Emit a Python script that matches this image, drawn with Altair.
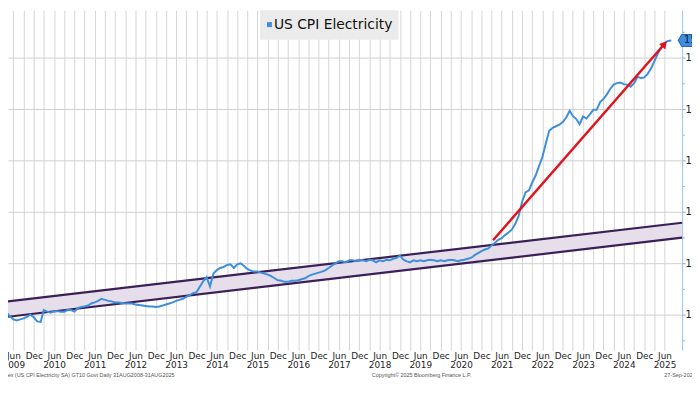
import altair as alt
import pandas as pd

# ---------------- data ----------------
SERIES_NAME = "US CPI Electricity"
series_start = "2009-03-01"   # first monthly value below (clipped at the left edge)

cpi_2009 = [100.7, 100.4, 99.7, 99.1, 98.9, 99.1, 99.3, 99.6, 100.0, 99.5]
cpi_2010 = [98.7, 98.6, 100.9, 100.6, 100.4, 100.7, 100.7, 100.6, 100.6, 100.9, 100.9, 100.6]
cpi_2011 = [101.3, 101.5, 101.6, 101.8, 102.2, 102.4, 102.7, 103.1, 102.9, 102.7, 102.6, 102.4]
cpi_2012 = [102.4, 102.3, 102.2, 102.2, 102.2, 102.0, 101.9, 101.8, 101.7, 101.6, 101.6, 101.5]
cpi_2013 = [101.6, 101.8, 102.0, 102.2, 102.4, 102.7, 102.9, 103.1, 103.5, 103.8, 104.2, 104.4]
cpi_2014 = [105.5, 106.6, 107.3, 105.5, 108.0, 108.7, 109.1, 109.3, 109.7, 109.8, 109.1, 109.8]
cpi_2015 = [110.0, 109.5, 108.9, 108.6, 108.4, 108.4, 108.2, 108.0, 107.8, 107.5, 107.1, 106.7]
cpi_2016 = [106.6, 106.4, 106.4, 106.6, 106.6, 106.7, 106.9, 107.1, 107.5, 107.8, 108.0, 108.2]
cpi_2017 = [108.4, 108.7, 109.1, 109.6, 110.0, 110.4, 110.4, 110.2, 110.6, 110.6, 110.4, 110.7]
cpi_2018 = [110.6, 110.4, 110.7, 110.6, 110.2, 110.6, 110.4, 110.7, 110.6, 110.9, 111.1, 111.5]
cpi_2019 = [110.7, 110.4, 110.2, 110.6, 110.4, 110.6, 110.4, 110.6, 110.7, 110.6, 110.4, 110.6]
cpi_2020 = [110.4, 110.6, 110.7, 110.6, 110.4, 110.6, 110.7, 110.9, 111.1, 111.6, 112.0, 112.4]
cpi_2021 = [112.7, 112.9, 113.5, 114.0, 114.6, 114.9, 115.5, 116.0, 116.6, 117.7, 119.3, 122.0]
cpi_2022 = [123.8, 124.2, 125.7, 127.1, 128.9, 130.7, 133.3, 135.8, 136.4, 136.7, 137.0, 137.5]
cpi_2023 = [138.4, 139.7, 138.7, 138.1, 137.1, 138.6, 138.2, 139.0, 139.9, 139.9, 141.4, 142.0]
cpi_2024 = [142.9, 144.0, 144.8, 145.1, 145.2, 144.9, 144.8, 144.4, 145.1, 146.3, 146.1, 146.2]
cpi_2025 = [146.9, 148.0, 149.3, 150.8, 152.0, 152.9, 153.3, 153.4]

# trend channel (two parallel lines) at the left and right edges of the plot
band_dates = ["2009-04-14", "2025-11-06"]
band_upper = [102.6, 117.9]
band_lower = [99.6, 115.0]

# red arrow
arrow_dates = ["2021-03-15", "2025-06-01"]
arrow_values = [114.5, 152.7]

# axes
y_tick_values = [95, 100, 105, 110, 115, 120, 125, 130, 135, 140, 145, 150, 155]
y_domain = [93.1, 159.3]
tick_years = list(range(2009, 2026))
tick_months = [3, 6, 9, 12]

footer_left = "Index (US CPI Electricity SA) GT10  Govt  Daily 31AUG2008-31AUG2025"
footer_mid = "Copyright\u00a9 2025 Bloomberg Finance L.P."
footer_right = "27-Sep-2025"

# ---------------- tables ----------------
values = (cpi_2009 + cpi_2010 + cpi_2011 + cpi_2012 + cpi_2013 + cpi_2014 + cpi_2015
          + cpi_2016 + cpi_2017 + cpi_2018 + cpi_2019 + cpi_2020 + cpi_2021 + cpi_2022
          + cpi_2023 + cpi_2024 + cpi_2025)
dates = pd.date_range(series_start, periods=len(values), freq="MS").strftime("%Y-%m-%d")
series = pd.DataFrame({"date": list(dates), "value": values})

band = pd.DataFrame({"date": band_dates, "upper": band_upper, "lower": band_lower})
band_long = pd.DataFrame({
    "date": band_dates + band_dates,
    "value": band_upper + band_lower,
    "edge": ["upper", "upper", "lower", "lower"],
})
arrow = pd.DataFrame({"date": arrow_dates, "value": arrow_values})
arrow_head = arrow.tail(1)
last = series.tail(1).copy()
last["label"] = [f"{v:.1f}" for v in last["value"]]
dummy = pd.DataFrame({"k": [0]})

# ---------------- scales & axes ----------------
FONT = "DejaVu Sans"
x_scale = alt.Scale(
    type="utc",
    domain=[alt.DateTime(year=2009, month=4, date=14, utc=True),
            alt.DateTime(year=2025, month=11, date=6, utc=True)],
)
y_scale = alt.Scale(domain=y_domain, nice=False, zero=False)

x_ticks = [alt.DateTime(year=y, month=m, date=1, utc=True)
           for y in tick_years for m in tick_months
           if (y, m) > (2009, 3) and (y, m) <= (2025, 6)]

x_axis = alt.Axis(
    values=x_ticks,
    labelExpr="utcmonth(datum.value) == 5 ? ['Jun', utcFormat(datum.value, '%Y')] : "
              "(utcmonth(datum.value) == 11 ? 'Dec' : '')",
    grid=True, gridColor="#d6d6d6", gridWidth=1,
    domain=False, ticks=False,
    labelFont=FONT, labelFontSize=9, labelColor="#222222",
    labelPadding=1, labelBaseline="top", labelLineHeight=9.5,
    labelOverlap=False, labelFlush=False, labelBound=False,
    title=None,
)
y_axis = alt.Axis(
    orient="right",
    values=y_tick_values,
    labelExpr="datum.value % 10 == 0 ? datum.label : ''",
    grid=True, gridColor="#cfcfcf", gridWidth=1,
    gridOpacity={"condition": {"test": "datum.value % 10 == 0", "value": 1}, "value": 0},
    tickSize={"condition": {"test": "datum.value % 10 == 0", "value": 3}, "value": 2},
    tickColor="#7fa9d3", domainColor="#9ec4e8", domainWidth=1,
    labelFont=FONT, labelFontSize=10, labelColor="#222222",
    labelPadding=0, labelAlign="left", labelOverlap=False, labelBound=False,
    title=None,
)

X = alt.X("date:T", scale=x_scale, axis=x_axis, title=None)
Y = alt.Y("value:Q", scale=y_scale, axis=y_axis, title=None)

# ---------------- layers ----------------
band_fill = alt.Chart(band).mark_area(color="#e6dfeb", opacity=1).encode(
    x=X, y=alt.Y("lower:Q", scale=y_scale, axis=y_axis, title=None), y2="upper:Q"
)
band_lines = alt.Chart(band_long).mark_line(color="#3a2057", strokeWidth=2.2).encode(
    x=X, y=Y, detail="edge:N"
)
cpi_line = alt.Chart(series).mark_line(color="#3d8fdc", strokeWidth=2, clip=True).encode(
    x=X, y=Y
)
arrow_line = alt.Chart(arrow).mark_line(color="#e0141c", strokeWidth=2.5).encode(x=X, y=Y)
arrow_tip = alt.Chart(arrow_head).mark_point(
    shape="triangle-up", angle=41, size=70, filled=True, color="#e0141c", opacity=1
).encode(x=X, y=Y)

tag_shape = alt.Chart(last).mark_point(
    shape="M-1,0L-0.75,-0.43L1,-0.43L1,0.43L-0.75,0.43Z", size=784, filled=True,
    fill="#3b8fe0", stroke="#24619f", strokeWidth=1, opacity=1
).encode(x=alt.value(692), y=Y)
tag_text = alt.Chart(last).mark_text(
    align="left", baseline="middle", font=FONT, fontSize=10, color="#0a1a3a"
).encode(x=alt.value(684), y=Y, text="label:N")

legend_box = alt.Chart(dummy).mark_rect(color="#ebebeb").encode(
    x=alt.value(255), x2=alt.value(395), y=alt.value(0), y2=alt.value(30)
)
legend_swatch = alt.Chart(dummy).mark_square(size=25, color="#3d8fdc", opacity=1).encode(
    x=alt.value(264.5), y=alt.value(14.6)
)
legend_text = alt.Chart(dummy).mark_text(
    text=SERIES_NAME, align="left", baseline="middle", font=FONT, fontSize=14, color="#111111"
).encode(x=alt.value(269), y=alt.value(15))

foot_style = dict(align="left", baseline="middle", font="Liberation Sans", fontSize=5.5,
                  color="#555555")
foot1 = alt.Chart(dummy).mark_text(text=footer_left, **foot_style).encode(
    x=alt.value(-8), y=alt.value(369))
foot2 = alt.Chart(dummy).mark_text(text=footer_mid, **foot_style).encode(
    x=alt.value(368), y=alt.value(369))
foot3 = alt.Chart(dummy).mark_text(text=footer_right, **foot_style).encode(
    x=alt.value(664), y=alt.value(369))

chart = alt.layer(
    band_fill, band_lines, cpi_line, arrow_line, arrow_tip,
    tag_shape, tag_text, legend_box, legend_swatch, legend_text, foot1, foot2, foot3
).properties(
    width=682, height=344,
    autosize=alt.AutoSizeParams(type="none"),
    padding={"left": 0, "top": 0, "right": 10, "bottom": 28},
    background="white",
).configure_view(strokeWidth=0)

chart.save("out.html", embed_options={"renderer": "svg", "actions": False})
